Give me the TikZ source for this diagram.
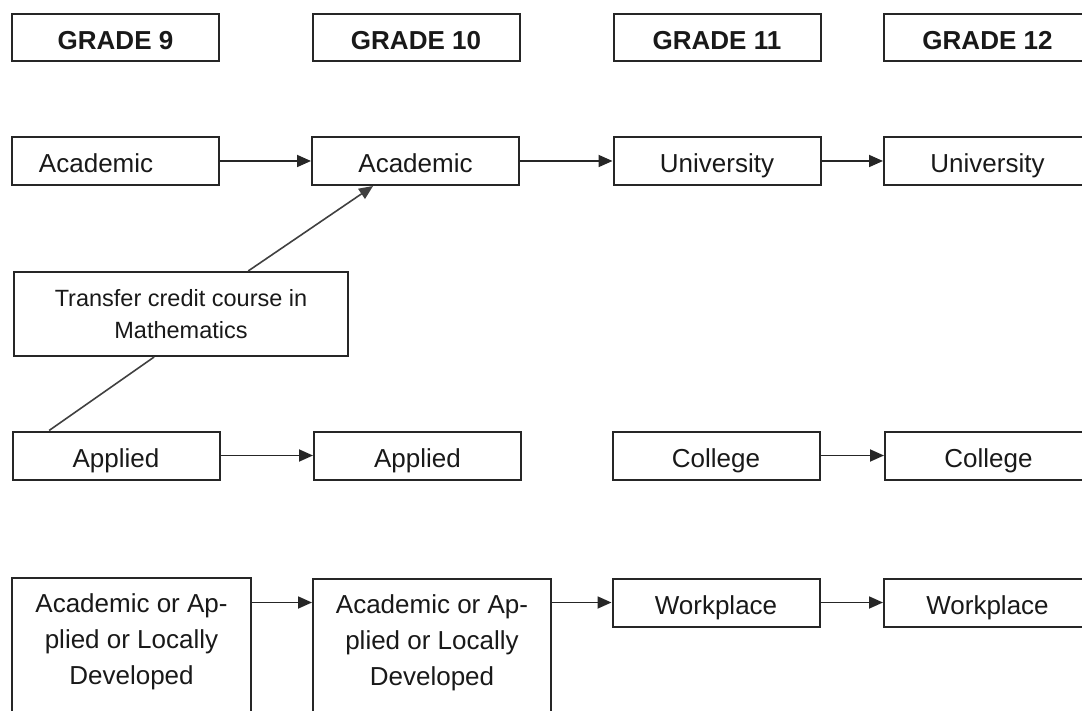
\documentclass[tikz,border=0pt]{standalone}
\usepackage{fontspec}
\setmainfont{Liberation Sans}
\usetikzlibrary{arrows.meta,calc}
\begin{document}
\begin{tikzpicture}[x=1pt,y=-1pt,
  box/.style={draw=black!85, line width=2pt, rectangle, inner sep=0pt,
    minimum height=48pt, text=black!90, text height=23pt, text depth=0pt,
    font=\fontsize{26}{31}\selectfont},
  head/.style={box, minimum width=207pt, minimum height=47pt,
    font=\bfseries\fontsize{26}{31}\selectfont},
  cell/.style={box, minimum width=207pt},
  tall/.style={box, minimum height=200pt},
  multi/.style={align=center, inner sep=0pt, anchor=north, text=black!90,
    font=\fontsize{26}{36}\selectfont},
  arr/.style={draw=black!85, line width=1.8pt, -{Triangle[length=14pt,width=12pt]}},
  link/.style={draw=black!75, line width=1.6pt}
]
\useasboundingbox (0,0) rectangle (1082,711);
\clip (0,0) rectangle (1082,711);

% headers
\node[head] (g9)  at (115.5,38) {GRADE 9};
\node[head] (g10) at (416,38)   {GRADE 10};
\node[head] (g11) at (717,38)   {GRADE 11};
\node[head] (g12) at (987.5,38) {GRADE 12};

% row 1
\node[cell] (a9)  at (115.5,161) {\makebox[207pt][l]{\hspace{27pt}Academic}};
\node[cell] (a10) at (415.5,161) {Academic};
\node[cell] (u11) at (717,161)   {University};
\node[cell] (u12) at (987.5,161) {University};

% transfer
\node[box, minimum width=334pt, minimum height=84pt, align=center,
  text height=, text depth=,
  font=\fontsize{23.5}{31.5}\selectfont] (tr) at (181,314)
  {Transfer credit course in\\Mathematics};

% row 2
\node[cell] (ap9)  at (116,455.5)   {Applied};
\node[cell] (ap10) at (417.5,455.5) {Applied};
\node[cell] (c11)  at (716,455.5)   {College};
\node[cell] (c12)  at (988.5,455.5) {College};

% row 3
\node[tall, minimum width=239pt] (d9)  at (131.5,677.8) {};
\node[tall, minimum width=238pt] (d10) at (432,678.8)   {};
\node[multi] (d9t)  at ($(d9.north)+(0,17)$)  {Academic or Ap-\\plied or Locally\\Developed};
\node[multi] (d10t) at ($(d10.north)+(0,17)$) {Academic or Ap-\\plied or Locally\\Developed};
\node[cell] (w11) at (716,602.5)   {Workplace};
\node[cell] (w12) at (987.5,602.5) {Workplace};

% connectors
\draw[arr] (a9) -- (a10);
\draw[arr] (a10) -- (u11);
\draw[arr] (u11) -- (u12);
\draw[arr] (ap9) -- (ap10);
\draw[arr] (c11) -- (c12);
\draw[arr] (d9.east |- w11.west) -- (d10.west |- w11.west);
\draw[arr] (d10.east |- w11.west) -- (w11.west);
\draw[arr] (w11) -- (w12);

\draw[link] ($(ap9.north west)!0.18!(ap9.north east)$) -- ($(tr.south west)!0.42!(tr.south east)$);
\draw[arr, draw=black!75, line width=1.6pt] ($(tr.north west)!0.70!(tr.north east)$) -- ($(a10.south west)!0.297!(a10.south east)$);
\end{tikzpicture}
\end{document}
